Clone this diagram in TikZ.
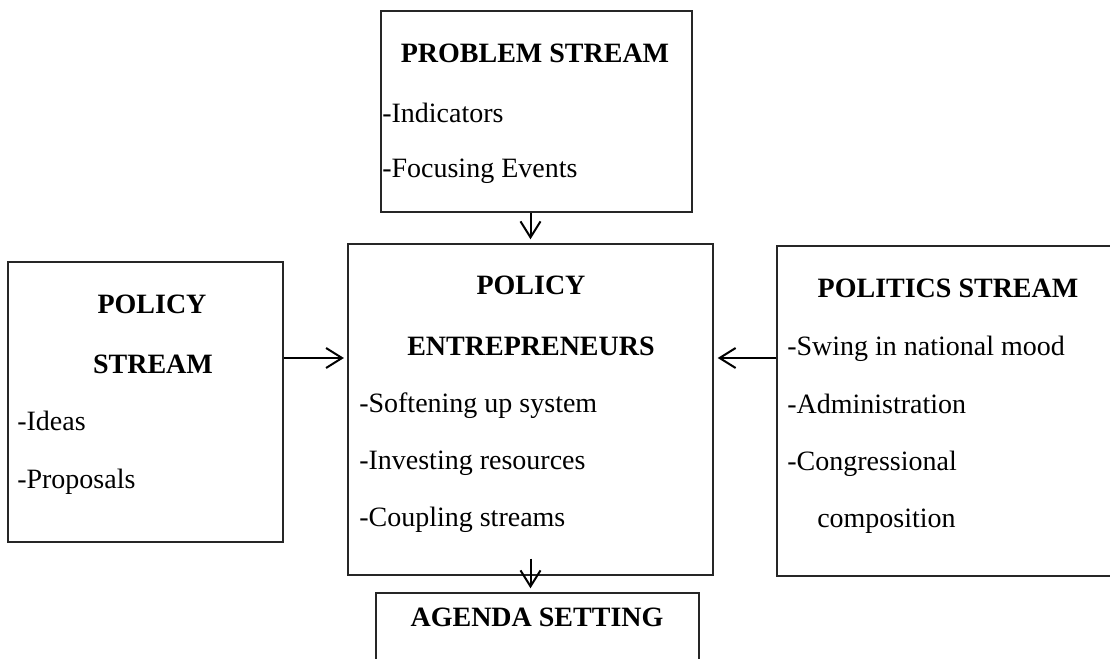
\documentclass[tikz,border=0pt]{standalone}
\usepackage{fontspec}
\setmainfont{Liberation Serif}
\usetikzlibrary{arrows.meta}
\tikzset{
  box/.style={draw=black!85, line width=1.1pt, rectangle, inner sep=0pt},
  conn/.style={line width=1.5pt, -{Straight Barb[length=12pt,width=15pt]}},
  ttl/.style={font=\fontsize{21pt}{25pt}\selectfont\bfseries, anchor=base, inner sep=0pt},
  itm/.style={font=\fontsize{21pt}{25pt}\selectfont, anchor=base west, inner sep=0pt},
}
\begin{document}
\begin{tikzpicture}[x=0.75pt,y=-0.75pt]
\clip (0,0) rectangle (1110,659);
\fill[white] (0,0) rectangle (1110,659);
% boxes
\node[box, minimum width=311*0.75pt, minimum height=201*0.75pt] (prob) at (536.5,111.5) {};
\node[box, minimum width=275*0.75pt, minimum height=280*0.75pt] (pol) at (145.5,402) {};
\node[box, minimum width=365*0.75pt, minimum height=331*0.75pt] (ent) at (530.5,409.5) {};
\node[box, minimum width=340*0.75pt, minimum height=330*0.75pt] (polit) at (947,411) {};
\node[box, minimum width=323*0.75pt, minimum height=110*0.75pt] (agenda) at (537.5,648) {};
% texts: problem stream
\node[ttl] (probT) at (535,63) {PROBLEM STREAM};
\node[itm] (probA) at (382,123) {-Indicators};
\node[itm] (probB) at (382,178) {-Focusing Events};
% policy stream
\node[ttl] (polT1) at (152,314) {POLICY};
\node[ttl] (polT2) at (153,373) {STREAM};
\node[itm] (polA) at (17,430) {-Ideas};
\node[itm] (polB) at (17,488) {-Proposals};
% entrepreneurs
\node[ttl] (entT1) at (531,295) {POLICY};
\node[ttl] (entT2) at (531,355) {ENTREPRENEURS};
\node[itm] (entA) at (359,412) {-Softening up system};
\node[itm] (entB) at (359,469) {-Investing resources};
\node[itm] (entC) at (359,526) {-Coupling streams};
% politics stream
\node[ttl] (politT) at (948,297) {POLITICS STREAM};
\node[itm] (politA) at (787,355) {-Swing in national mood};
\node[itm] (politB) at (787,413) {-Administration};
\node[itm] (politC) at (787,470) {-Congressional};
\node[itm] (politD) at (817,527) {composition};
% agenda
\node[ttl] (agT) at (537,626) {AGENDA SETTING};
% connectors
\draw[conn, shorten >=3pt] (prob.south -| ent.north) -- (ent.north);
\draw[conn, shorten >=2.5pt] (pol.east |- 0,358) coordinate (pe) -- (ent.west |- pe);
\draw[conn, shorten >=3pt] (polit.west |- 0,358) coordinate (qe) -- (ent.east |- qe);
\coordinate (es) at ([yshift=12.75pt]ent.south);
\draw[conn, shorten >=3pt] (es) -- (es |- agenda.north);
\end{tikzpicture}
\end{document}
